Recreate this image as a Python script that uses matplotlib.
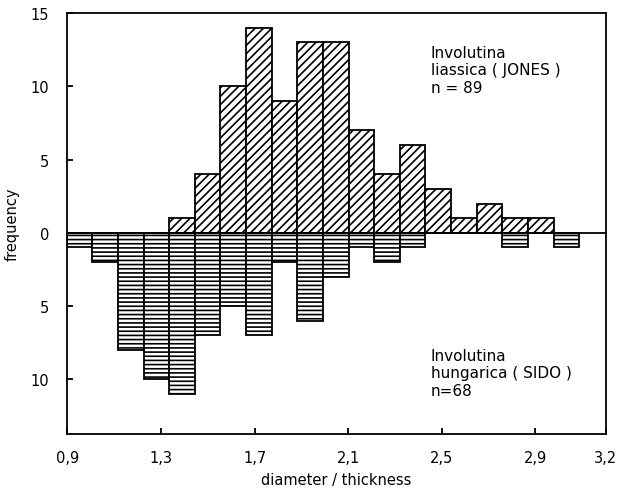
import numpy as np
import matplotlib
matplotlib.use("Agg")
import matplotlib.pyplot as plt

# ---- data ----
bin_start = 0.897
bin_width = 0.1095
upper_counts = [0, 0, 0, 0, 1, 4, 10, 14, 9, 13, 13, 7, 4, 6, 3, 1, 2, 1, 1, 0]   # Involutina liassica, n=89
lower_counts = [1, 2, 8, 10, 11, 7, 5, 7, 2, 6, 3, 1, 2, 1, 0, 0, 0, 1, 0, 1]     # Involutina hungarica, n=68
xtick_vals = [0.9, 1.3, 1.7, 2.1, 2.5, 2.9, 3.2]
xtick_labels = ["0,9", "1,3", "1,7", "2,1", "2,5", "2,9", "3,2"]
ytick_vals = [-10, -5, 0, 5, 10, 15]
ytick_labels = ["10", "5", "0", "5", "10", "15"]
upper_label = "Involutina\nliassica ( JONES )\nn = 89"
lower_label = "Involutina\nhungarica ( SIDO )\nn=68"

plt.rcParams['hatch.linewidth'] = 1.2
plt.rcParams['font.family'] = ['DejaVu Sans']

FS = 10.5
fig = plt.figure(figsize=(6.18, 4.89), dpi=100)
ax = fig.add_axes([0.109, 0.110, 0.871, 0.861])

lefts = bin_start + bin_width * np.arange(len(upper_counts))
up = np.array(upper_counts, dtype=float)
lo = np.array(lower_counts, dtype=float)

m = up > 0
ax.bar(lefts[m], up[m], width=bin_width, align='edge', facecolor='white',
       edgecolor='black', linewidth=1.3, hatch='////')
m = lo > 0
ax.bar(lefts[m], -lo[m], width=bin_width, align='edge', facecolor='white',
       edgecolor='black', linewidth=1.3, hatch='----')

ax.axhline(0, color='black', linewidth=1.3)

ax.set_xlim(0.9, 3.2)
ax.set_ylim(-13.75, 14.9)
ax.set_xticks(xtick_vals)
ax.set_xticklabels(xtick_labels, fontsize=FS)
ax.set_yticks(ytick_vals)
ax.set_yticklabels(ytick_labels, fontsize=FS)
ax.tick_params(axis='x', direction='in', length=4, width=1.3, pad=11.5)
ax.tick_params(axis='y', direction='in', length=4, width=1.3, pad=13)
for s in ax.spines.values():
    s.set_linewidth(1.3)

ax.set_xlabel("diameter / thickness", fontsize=FS, labelpad=5)
ax.set_ylabel("frequency", fontsize=FS, labelpad=8)

ax.text(2.452, 12.85, upper_label, fontsize=11, va='top', ha='left', linespacing=1.22)
ax.text(2.452, -7.85, lower_label, fontsize=11, va='top', ha='left', linespacing=1.22)

fig.savefig("out.png", dpi=100)
